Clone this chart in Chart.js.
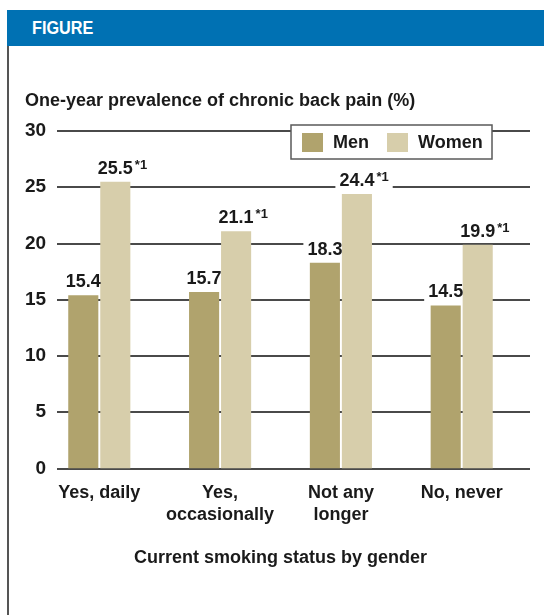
<!DOCTYPE html>
<html>
<head>
<meta charset="utf-8">
<script src="https://cdn.jsdelivr.net/npm/chart.js@4.4.1/dist/chart.umd.min.js"></script>
<style>
  html, body { margin: 0; padding: 0; background: #fff; width: 544px; height: 615px; overflow: hidden; font-family: "Liberation Sans", Arial, sans-serif; }
  #wrap { position: absolute; left: 0; top: 0; width: 544px; height: 615px; }
  #header { position: absolute; left: 7px; top: 10px; width: 537px; height: 36px; background: #0071b3; }
  #header span { position: absolute; left: 25px; top: 0; line-height: 36px; color: #fff; font-weight: bold; font-size: 18px; transform: scaleX(0.9); transform-origin: left center; }
  #edge { position: absolute; left: 7px; top: 46px; width: 2px; height: 569px; background: #555; }
  #title { position: absolute; left: 25px; top: 90px; font-weight: bold; font-size: 18px; line-height: 20px; color: #1a1a1a; white-space: nowrap; }
</style>
</head>
<body>
<div id="wrap"><canvas id="chart" width="544" height="615"></canvas></div>
<div id="header"><span>FIGURE</span></div>
<div id="edge"></div>
<div id="title">One-year prevalence of chronic back pain (%)</div>
<script>
// chart data
const categories = [['Yes, daily'], ['Yes,', 'occasionally'], ['Not any', 'longer'], ['No, never']];
const menValues = [15.4, 15.7, 18.3, 14.5];
const womenValues = [25.5, 21.1, 24.4, 19.9];
const womenNotes = ['*1', '*1', '*1', '*1'];
const seriesNames = ['Men', 'Women'];

const textColor = '#1a1a1a';
const labelFont = 'bold 18px "Liberation Sans", Arial, sans-serif';
const noteFont = 'bold 13px "Liberation Sans", Arial, sans-serif';

function labelBoxes(chart) {
    const ctx = chart.ctx;
    const boxes = [];
    chart.data.datasets.forEach(function(ds, di) {
        const meta = chart.getDatasetMeta(di);
        meta.data.forEach(function(bar, i) {
            const txt = ds.data[i].toFixed(1);
            const note = di === 1 ? womenNotes[i] : '';
            ctx.font = labelFont;
            const w = ctx.measureText(txt).width;
            ctx.font = noteFont;
            const nw = note ? ctx.measureText(note).width + 2 : 0;
            boxes.push({ txt: txt, note: note, x: bar.x, base: bar.y - 8, w: w, nw: nw });
        });
    });
    return boxes;
}

// gridlines and white gaps behind the value labels
const gridPlugin = {
    id: 'gridPlugin',
    beforeDatasetsDraw(chart) {
        const ctx = chart.ctx;
        const y = chart.scales.y;
        ctx.save();
        ctx.strokeStyle = '#4a4a4a';
        ctx.lineWidth = 2;
        y.ticks.forEach(function(t) {
            const py = Math.round(y.getPixelForValue(t.value));
            ctx.beginPath();
            ctx.moveTo(57, py);
            ctx.lineTo(530, py);
            ctx.stroke();
        });
        ctx.fillStyle = '#fff';
        labelBoxes(chart).forEach(function(b) {
            ctx.fillRect(b.x - b.w / 2 - 4, b.base - 17, b.w + b.nw + 8, 21);
        });
        ctx.restore();
    },
    afterDatasetsDraw(chart) {
        const ctx = chart.ctx;
        ctx.save();
        ctx.fillStyle = textColor;
        ctx.textAlign = 'left';
        ctx.textBaseline = 'alphabetic';
        labelBoxes(chart).forEach(function(b) {
            ctx.font = labelFont;
            ctx.fillText(b.txt, b.x - b.w / 2, b.base);
            if (b.note) {
                ctx.font = noteFont;
                ctx.fillText(b.note, b.x + b.w / 2 + 2, b.base - 5);
            }
        });

        // legend box
        ctx.fillStyle = '#fff';
        ctx.fillRect(291, 125, 201, 34);
        ctx.strokeStyle = '#5a5a5a';
        ctx.lineWidth = 1.5;
        ctx.strokeRect(291, 125, 201, 34);
        const items = [{ sx: 302, tx: 333 }, { sx: 387, tx: 418 }];
        ctx.font = labelFont;
        ctx.textBaseline = 'middle';
        chart.data.datasets.forEach(function(ds, di) {
            ctx.fillStyle = ds.backgroundColor;
            ctx.fillRect(items[di].sx, 133, 21, 19);
            ctx.fillStyle = textColor;
            ctx.fillText(ds.label, items[di].tx, 143);
        });
        ctx.restore();
    }
};

const ctx = document.getElementById('chart').getContext('2d');
const backPainChart = new Chart(ctx, {
    type: 'bar',
    data: {
        labels: categories,
        datasets: [{
            label: seriesNames[0],
            data: menValues,
            backgroundColor: '#b0a36d'
        }, {
            label: seriesNames[1],
            data: womenValues,
            backgroundColor: '#d7ceab'
        }]
    },
    options: {
        responsive: false,
        animation: false,
        categoryPercentage: 0.53,
        barPercentage: 0.94,
        layout: {
            padding: { left: 0, right: 21.9, top: 131, bottom: 0 }
        },
        plugins: {
            legend: { display: false },
            tooltip: { enabled: false }
        },
        scales: {
            x: {
                grid: { display: false, drawTicks: false },
                border: { display: false },
                ticks: {
                    color: textColor,
                    padding: 13.5,
                    maxRotation: 0,
                    autoSkip: false,
                    font: { family: '"Liberation Sans", Arial, sans-serif', size: 18, weight: 'bold', lineHeight: 1.22 }
                },
                title: {
                    display: true,
                    text: 'Current smoking status by gender',
                    color: textColor,
                    padding: { top: 0, bottom: 46 },
                    font: { family: '"Liberation Sans", Arial, sans-serif', size: 18, weight: 'bold', lineHeight: 1.2 }
                },
                afterFit: function(scale) { scale.height = 146.5; }
            },
            y: {
                min: 0,
                max: 30,
                grid: { display: false, drawTicks: false },
                border: { display: false },
                ticks: {
                    stepSize: 5,
                    color: textColor,
                    mirror: true,
                    crossAlign: 'far',
                    padding: -14,
                    font: { family: '"Liberation Sans", Arial, sans-serif', size: 19, weight: 'bold' }
                },
                afterFit: function(scale) { scale.width = 38.9; }
            }
        }
    },
    plugins: [gridPlugin]
});
</script>
</body>
</html>
